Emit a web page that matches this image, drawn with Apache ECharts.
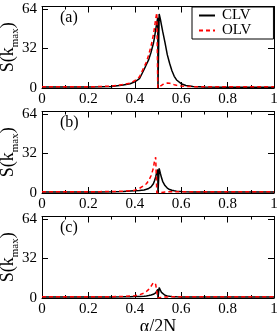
<!DOCTYPE html>
<html>
<head>
<meta charset="utf-8">
<script src="https://cdn.jsdelivr.net/npm/echarts@6/dist/echarts.min.js"></script>
<style>html,body{margin:0;padding:0;background:#fff}#c{width:279px;height:331px}</style>
</head>
<body>
<div id="c"></div>
<script>
// shared abscissa alpha/2N
const alpha = [0, 0.05, 0.1, 0.15, 0.2, 0.25, 0.3, 0.35, 0.38, 0.4, 0.42, 0.44, 0.45, 0.46, 0.47, 0.48, 0.485, 0.49, 0.495, 0.499, 0.5, 0.505, 0.51, 0.515, 0.52, 0.53, 0.54, 0.55, 0.56, 0.57, 0.58, 0.6, 0.62, 0.65, 0.7, 0.8, 0.9, 1.0];
// panel (a)
const clvA = [0.8, 0.8, 0.8, 0.8, 0.8, 1.0, 1.3, 2.5, 3.5, 5, 7.5, 15, 19, 23, 29, 36, 41, 47, 53, 57, 0, 60, 56, 51, 46, 37, 27, 20, 14, 9.5, 6.5, 3.5, 2, 1.2, 0.8, 0.6, 0.6, 0.6];
const olvA = [1, 1, 1, 1, 1, 1.2, 1.5, 2.8, 4, 6, 9, 17, 21, 27, 34, 43, 49, 56, 61, 0, 0, 0.8, 1.5, 2.2, 2.8, 3.6, 4, 3.9, 3.3, 2.7, 2.2, 1.6, 1.3, 1.1, 1, 1, 1, 1];
// panel (b)
const clvB = [0.8, 0.8, 0.8, 0.8, 0.8, 0.9, 1.0, 1.3, 1.6, 1.8, 2, 2.4, 3, 3.7, 5, 7.5, 10, 13, 17, 19, 0, 20, 16, 12.5, 9.5, 6, 4, 2.8, 2.2, 1.8, 1.5, 1.2, 1, 0.9, 0.8, 0.8, 0.8, 0.8];
const olvB = [1, 1, 1, 1, 1, 1.1, 1.2, 1.5, 1.8, 2.3, 3.8, 6, 7.5, 10, 14, 20, 26, 29, 0, 0, 0, 0.2, 0.4, 0.5, 0.6, 0.8, 0.9, 1, 1, 1, 1, 1, 1, 1, 1, 1, 1, 1];
// panel (c)
const clvC = [0.8, 0.8, 0.8, 0.8, 0.8, 0.8, 0.9, 1.0, 1.1, 1.2, 1.3, 1.5, 1.7, 2, 2.4, 3, 3.5, 4.2, 5.5, 7, 0, 8.5, 6.5, 4.5, 3.2, 2.2, 1.7, 1.4, 1.2, 1.1, 1, 0.9, 0.9, 0.8, 0.8, 0.8, 0.8, 0.8];
const olvC = [1, 1, 1, 1, 1, 1, 1.1, 1.3, 1.6, 1.8, 2.6, 4, 5.2, 7, 9.5, 12.5, 13.5, 11, 5, 0, 0, 0.2, 0.4, 0.5, 0.6, 0.8, 0.9, 1, 1, 1, 1, 1, 1, 1, 1, 1, 1, 1];
const yTicks = [0, 32, 64];
const xTickStep = 0.2;
const panelLabels = ['(a)', '(b)', '(c)'];
const seriesNames = ['CLV', 'OLV'];

const panels = [[clvA, olvA], [clvB, olvB], [clvC, olvC]];
const FONT = 'Liberation Serif';
const bottoms = [88, 193, 298];
const YMAX = 66;
const pxPerUnit = 79 / 64;
const H = YMAX * pxPerUnit;

const grids = [], xAxes = [], yAxes = [], series = [], graphics = [];
panels.forEach((p, i) => {
  const top = bottoms[i] - H;
  grids.push({left: 42, width: 232, top: top, height: H, show: false, containLabel: false, outerBoundsMode: 'none'});
  const xCommon = {
    gridIndex: i, type: 'value', min: 0, max: 1, interval: xTickStep,
    axisLine: {show: true, onZero: false, lineStyle: {color: '#000', width: 1}},
    axisTick: {show: true, inside: true, length: 6, lineStyle: {color: '#000'}},
    minorTick: {show: true, splitNumber: 2, length: 3, lineStyle: {color: '#000'}},
    splitLine: {show: false}
  };
  xAxes.push(Object.assign({}, xCommon, {
    position: 'bottom',
    axisLabel: {show: true, margin: 4, fontSize: 15, fontFamily: FONT, color: '#000'},
    name: i === 2 ? 'α/2N' : '', nameLocation: 'middle', nameGap: 15,
    nameTextStyle: {fontSize: 18, fontFamily: FONT, color: '#000'}
  }));
  xAxes.push(Object.assign({}, xCommon, {position: 'top', axisLabel: {show: false}}));
  const yCommon = {
    gridIndex: i, type: 'value', min: 0, max: YMAX, interval: 32,
    axisLine: {show: true, onZero: false, lineStyle: {color: '#000', width: 1}},
    axisTick: {show: true, inside: true, length: 6, lineStyle: {color: '#000'}},
    splitLine: {show: false}
  };
  yAxes.push(Object.assign({}, yCommon, {
    position: 'left',
    axisLabel: {show: true, margin: 5, fontSize: 15, fontFamily: FONT, color: '#000',
      formatter: v => yTicks.indexOf(v) >= 0 ? String(v) : ''}
  }));
  yAxes.push(Object.assign({}, yCommon, {position: 'right', axisLabel: {show: false}}));
  series.push({
    name: seriesNames[0], type: 'line', xAxisIndex: 2 * i, yAxisIndex: 2 * i,
    data: alpha.map((x, k) => [x, p[0][k]]), showSymbol: false, symbol: 'none',
    lineStyle: {color: '#000', width: 1.5}, itemStyle: {color: '#000'}, z: 2, animation: false
  });
  series.push({
    name: seriesNames[1], type: 'line', xAxisIndex: 2 * i, yAxisIndex: 2 * i,
    data: alpha.map((x, k) => [x, p[1][k]]), showSymbol: false, symbol: 'none',
    lineStyle: {color: '#ff0000', width: 1.5, type: [4, 3]}, itemStyle: {color: '#ff0000'}, z: 3, animation: false
  });
  graphics.push({type: 'text', left: 60, top: top + 3, style: {text: panelLabels[i], fontSize: 16, fontFamily: FONT, fill: '#000'}});
  graphics.push({
    type: 'text', x: 9, y: top + H / 2, rotation: Math.PI / 2,
    style: {
      text: '{a|S(k}{b|max}{a|)}', align: 'center', verticalAlign: 'middle',
      rich: {
        a: {fontSize: 18, fontFamily: FONT, fill: '#000', lineHeight: 20, verticalAlign: 'top'},
        b: {fontSize: 11, fontFamily: FONT, fill: '#000', lineHeight: 11, padding: [11, 0, 0, 0], verticalAlign: 'top'}
      }
    }
  });
});

const chart = echarts.init(document.getElementById('c'), null, {renderer: 'canvas'});
chart.setOption({
  animation: false,
  backgroundColor: '#fff',
  grid: grids, xAxis: xAxes, yAxis: yAxes, series: series, graphic: graphics,
  legend: {
    data: seriesNames, orient: 'vertical', left: 192, top: 7,
    padding: [1, 22, 1, 6], itemGap: 0, itemWidth: 16, itemHeight: 10,
    itemStyle: {opacity: 0},
    borderColor: '#000', borderWidth: 1, borderRadius: 0, backgroundColor: '#fff',
    textStyle: {fontSize: 15, fontFamily: FONT, color: '#000', lineHeight: 14, padding: [0, 0, 0, 2]}
  }
});
</script>
</body>
</html>
